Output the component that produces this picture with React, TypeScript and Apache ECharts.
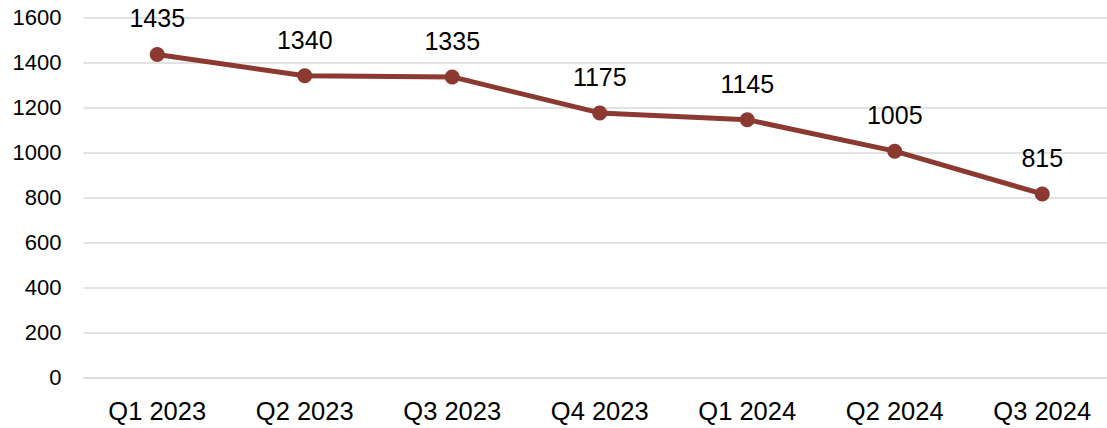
import React, { useEffect, useRef } from "react";
import * as echarts from "echarts";

const categories = ["Q1 2023", "Q2 2023", "Q3 2023", "Q4 2023", "Q1 2024", "Q2 2024", "Q3 2024"];
const values = [1435, 1340, 1335, 1175, 1145, 1005, 815];
const yMin = 0;
const yMax = 1600;
const yInterval = 200;

export default function App() {
  const ref = useRef<HTMLDivElement>(null);
  useEffect(() => {
    document.body.style.margin = "0";
    document.body.style.overflow = "hidden";
    const chart = echarts.init(ref.current!, undefined, { renderer: "svg" });
    const font = "Liberation Sans, Arial, sans-serif";
    chart.setOption({
      animation: false,
      grid: { left: 83.5, right: 0, top: 17.3, bottom: 50.7, containLabel: false },
      xAxis: {
        type: "category",
        data: categories,
        boundaryGap: true,
        axisLine: { show: true, lineStyle: { color: "#d9d9d9", width: 1.5 } },
        axisTick: { show: false },
        axisLabel: { color: "#000", fontSize: 25.5, fontFamily: font, margin: 21 },
      },
      yAxis: {
        type: "value",
        min: yMin,
        max: yMax,
        interval: yInterval,
        axisLine: { show: false },
        axisTick: { show: false },
        axisLabel: {
          color: "#000",
          fontSize: 22,
          fontFamily: font,
          margin: 22,
          formatter: (v: number) => String(v),
        },
        splitLine: { lineStyle: { color: "#d9d9d9", width: 1.5 } },
      },
      series: [
        {
          type: "line",
          data: values,
          symbol: "circle",
          symbolSize: 15,
          lineStyle: { color: "#8c3a31", width: 5 },
          itemStyle: { color: "#8c3a31" },
          label: {
            show: true,
            position: "top",
            distance: 16,
            color: "#000",
            fontSize: 25,
            fontFamily: font,
          },
        },
      ],
    });
    return () => chart.dispose();
  }, []);
  return <div ref={ref} style={{ width: 1116, height: 428 }} />;
}
